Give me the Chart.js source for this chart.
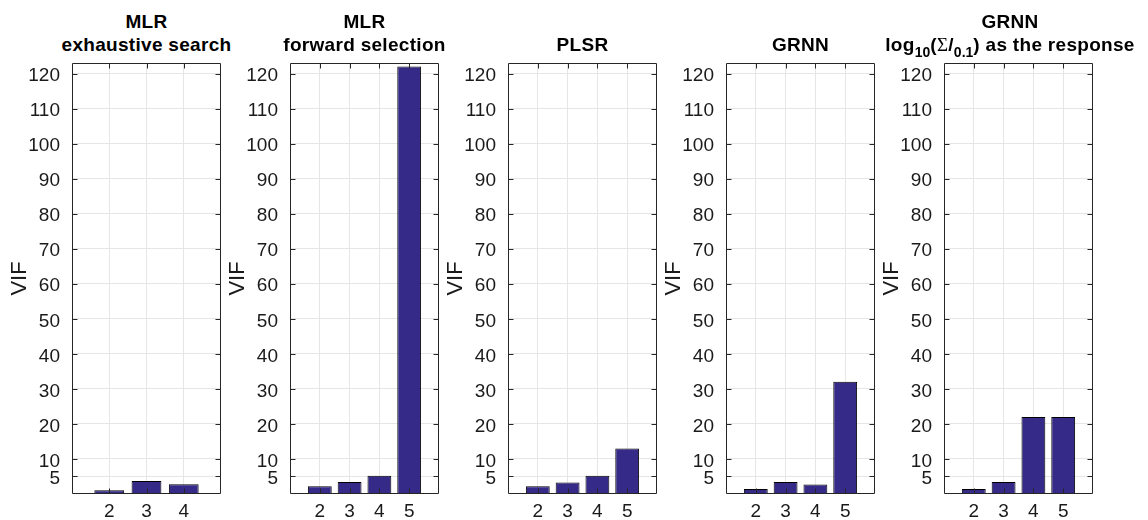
<!DOCTYPE html>
<html>
<head>
<meta charset="utf-8">
<script src="https://cdn.jsdelivr.net/npm/chart.js@4"></script>
<style>
body { margin: 0; background: #fff; width: 1148px; height: 520px; position: relative; overflow: hidden; font-family: 'Liberation Sans', Arial, sans-serif; }
canvas { position: absolute; top: 0; }
.ttl { position: absolute; top: 10px; width: 300px; text-align: center; font-weight: bold; font-size: 19px; line-height: 23px; color: #000; letter-spacing: 0.3px; white-space: nowrap; }
.ttl sub { font-size: 14px; vertical-align: baseline; position: relative; top: 6px; letter-spacing: 0; }
.ttl .sig { font-family: 'Liberation Serif', serif; font-weight: normal; }
</style>
</head>
<body>
<div id="wrap"></div>
<script>
// Datos de cada panel
const catsMLRExh = [2, 3, 4];
const vifMLRExh = [1.1, 3.7, 2.8];
const catsMLRFwd = [2, 3, 4, 5];
const vifMLRFwd = [2.2, 3.4, 5.2, 122.0];
const catsPLSR = [2, 3, 4, 5];
const vifPLSR = [2.2, 3.3, 5.2, 13.0];
const catsGRNN = [2, 3, 4, 5];
const vifGRNN = [1.4, 3.4, 2.7, 32.0];
const catsGRNNLog = [2, 3, 4, 5];
const vifGRNNLog = [1.4, 3.4, 22.0, 22.0];
const yTicks = [5, 10, 20, 30, 40, 50, 60, 70, 80, 90, 100, 110, 120];
const yMax = 123;

const titles = [
    'MLR<br>exhaustive search',
    'MLR<br>forward selection',
    '<br>PLSR',
    '<br>GRNN',
    'GRNN<br>log<sub>10</sub>(<span class="sig">Σ</span>/<sub>0.1</sub>) as the response'
];

const panels = [
    { cats: catsMLRExh, vals: vifMLRExh },
    { cats: catsMLRFwd, vals: vifMLRFwd },
    { cats: catsPLSR, vals: vifPLSR },
    { cats: catsGRNN, vals: vifGRNN },
    { cats: catsGRNNLog, vals: vifGRNNLog }
];

const axisLeft = [72, 290, 508, 726, 944];
const axisW = 149;
const yAxisW = 72;
const padRight = 7;
const titleCenter = [146.5, 364.5, 582.5, 800.5, 1010];

const textColor = '#1a1a1a';
const barColor = '#352a87';
const gridColor = '#e6e6e6';
const fontFam = "'Liberation Sans', Arial, sans-serif";
const tickFont = { family: fontFam, size: 19 };

Chart.defaults.font.family = fontFam;
Chart.defaults.font.size = 19;
Chart.defaults.color = textColor;

// Marco y marcas hacia dentro (estilo MATLAB)
const boxPlugin = {
    id: 'boxTicks',
    afterDatasetsDraw(chart) {
        const { ctx, chartArea: a, scales: { x, y } } = chart;
        const tl = 5;
        ctx.save();
        ctx.strokeStyle = '#262626';
        ctx.lineWidth = 1;
        ctx.beginPath();
        const L = a.left + 0.5, R = a.right - 0.5, T = a.top + 0.5, B = a.bottom - 0.5;
        x.ticks.forEach(t => {
            const px = Math.round(x.getPixelForValue(t.value)) + 0.5;
            ctx.moveTo(px, B); ctx.lineTo(px, B - tl);
            ctx.moveTo(px, T); ctx.lineTo(px, T + tl);
        });
        y.ticks.forEach(t => {
            const py = Math.round(y.getPixelForValue(t.value)) + 0.5;
            ctx.moveTo(L, py); ctx.lineTo(L + tl, py);
            ctx.moveTo(R, py); ctx.lineTo(R - tl, py);
        });
        ctx.rect(L, T, R - L, B - T);
        ctx.stroke();
        ctx.restore();
    }
};

const wrap = document.getElementById('wrap');

panels.forEach((p, i) => {
    const t = document.createElement('div');
    t.className = 'ttl';
    t.style.left = (titleCenter[i] - 150) + 'px';
    t.innerHTML = titles[i];
    wrap.appendChild(t);

    const cv = document.createElement('canvas');
    const w = yAxisW + axisW + padRight;
    cv.width = w; cv.height = 520;
    cv.style.width = w + 'px'; cv.style.height = '520px';
    cv.style.left = (axisLeft[i] - yAxisW) + 'px';
    wrap.appendChild(cv);

    new Chart(cv, {
        type: 'bar',
        data: {
            datasets: [{
                data: p.cats.map((c, k) => ({ x: c, y: p.vals[k] })),
                backgroundColor: barColor,
                borderColor: '#000',
                borderWidth: 1,
                barPercentage: 0.8,
                categoryPercentage: 1.0
            }]
        },
        options: {
            responsive: false,
            animation: false,
            devicePixelRatio: 1,
            layout: { padding: { top: 63, right: padRight, left: 0, bottom: 0 } },
            plugins: { legend: { display: false }, tooltip: { enabled: false } },
            scales: {
                x: {
                    type: 'linear',
                    min: p.cats[0] - 1,
                    max: p.cats[p.cats.length - 1] + 1,
                    offset: false,
                    afterBuildTicks: s => { s.ticks = p.cats.map(v => ({ value: v })); },
                    afterFit: s => { s.height = 26; },
                    grid: { color: gridColor, drawTicks: false, offset: false },
                    border: { display: false },
                    ticks: { color: textColor, padding: 6, maxRotation: 0, font: tickFont }
                },
                y: {
                    min: 0,
                    max: yMax,
                    afterBuildTicks: s => { s.ticks = yTicks.map(v => ({ value: v })); },
                    afterFit: s => { s.width = yAxisW; },
                    grid: { color: gridColor, drawTicks: false },
                    border: { display: false },
                    ticks: { color: textColor, padding: 12, labelOffset: 2.5, font: tickFont },
                    title: {
                        display: true,
                        text: 'VIF',
                        color: textColor,
                        padding: { top: 7, bottom: 0 },
                        font: { family: fontFam, size: 22 }
                    }
                }
            }
        },
        plugins: [boxPlugin]
    });
});
</script>
</body>
</html>
